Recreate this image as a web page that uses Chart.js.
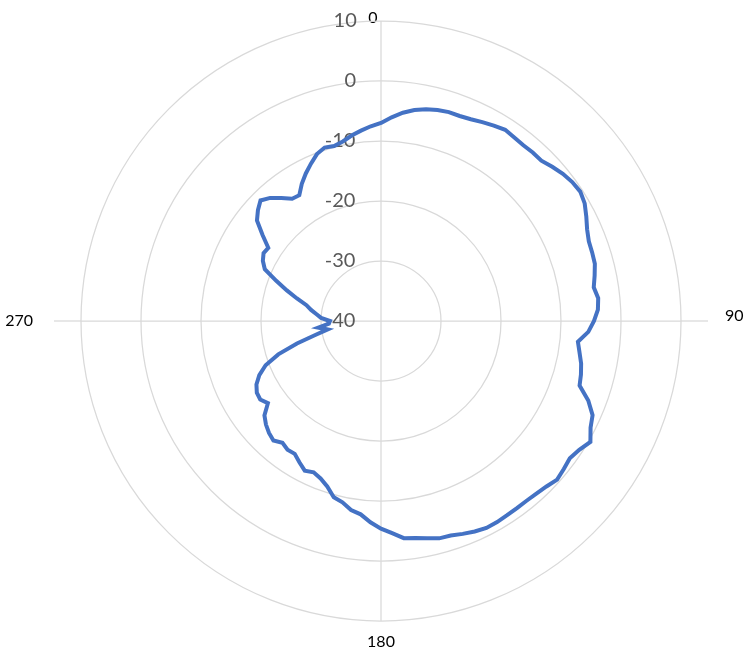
<!DOCTYPE html>
<html><head><meta charset="utf-8">
<script src="https://cdn.jsdelivr.net/npm/chart.js@4/dist/chart.umd.min.js"></script>
<style>html,body{margin:0;padding:0;background:#fff}#wrap{width:753px;height:651px;position:relative}</style>
</head><body><div id="wrap"><canvas id="c"></canvas></div>
<script>
// Azimuth angles (degrees, clockwise from top)
const angles = [0,3,6,9,12,15,18,21,24,27,30,33,36,39,42,45,48,51,54,57,
  60,63,66,69,72,75,78,81,84,87,90,93,96,99,102,105,108,111,114,117,
  120,123,126,129,132,135,138,141,144,147,150,153,156,159,162,165,168,171,174,177,
  180,183,186,189,192,195,198,201,204,207,210,213,216,219,222,225,228,231,234,237,
  240,243,246,249,252,255,258,261,264,267,270,273,276,279,282,285,288,291,294,297,
  300,303,306,309,312,315,318,321,324,327,330,333,336,339,342,345,348,351,354,357];
// Measured level (dB) at each angle
const levels = [-7.0,-6.0,-5.1,-4.4,-3.9,-3.6,-3.4,-3.4,-3.2,-2.8,-2.4,-2.0,-2.2,-2.3,-2.2,-2.2,-1.6,-1.0,-0.6,-0.4,
  -0.8,-1.6,-2.4,-2.9,-3.0,-3.1,-3.6,-4.1,-3.6,-3.8,-4.5,-5.4,-7.0,-6.5,-5.9,-5.5,-5.2,-3.0,-1.4,-0.8,
  0.3,-0.6,-1.1,-0.8,-0.5,-1.0,-1.3,-1.45,-1.45,-1.4,-1.3,-1.3,-1.6,-2.0,-2.4,-2.5,-3.0,-3.4,-3.6,-4.6,
  -5.4,-6.4,-7.6,-8.1,-9.1,-9.6,-11.0,-11.9,-12.4,-12.0,-12.8,-13.6,-13.5,-13.9,-13.2,-13.6,-14.2,-15.0,-16.7,-16.0,
  -16.1,-16.7,-17.8,-19.4,-22.0,-25.5,-28.8,-31.0,-29.5,-31.3,-31.5,-30.0,-29.2,-28.2,-27.3,-25.5,-23.5,-21.3,-18.8,-17.9,
  -17.4,-17.6,-15.6,-13.4,-12.4,-11.6,-12.4,-13.6,-14.8,-15.0,-13.6,-12.4,-11.3,-10.2,-9.6,-9.8,-9.4,-8.7,-8.1,-7.5];
// Axis
const axisMin = -40, axisMax = 10, axisStep = 10;
const shownAngleLabels = [0, 90, 180, 270];

const FONT = 'Lato';
const TICK_SIZE = 20;
const mctx = document.createElement('canvas').getContext('2d');
mctx.font = TICK_SIZE + 'px ' + FONT;
function rightAlign(txt) {
  const lw = mctx.measureText(txt).width;
  const sp = mctx.measureText(' ').width;
  const n = Math.max(0, Math.round((50 + lw) / sp));
  return txt + ' '.repeat(n);
}

function plFont(ctx) {
  const a = angles[ctx.index];
  if (a === 0) return {family: FONT, size: 16, lineHeight: 2.1875};
  if (a === 90) return {family: FONT, size: 16, lineHeight: 0.6875};
  if (a === 180) return {family: FONT, size: 16, lineHeight: 0.0625};
  if (a === 270) return {family: FONT, size: 16, lineHeight: 1.2};
  return {family: FONT, size: 16, lineHeight: 0};
}
function plPad(ctx) {
  const a = angles[ctx.index];
  if (a === 0) return -23;
  if (a === 90) return 35;
  if (a === 180) return 11;
  if (a === 270) return 39;
  return 0;
}

// Extends the 90/270 spokes slightly past the outer ring, as in the original
const spokeExt = {
  id: 'spokeExt',
  beforeDatasetsDraw(chart) {
    const s = chart.scales.r;
    const c = chart.ctx;
    c.save();
    c.strokeStyle = '#d9d9d9';
    c.lineWidth = 1.25;
    [90, 270].forEach(a => {
      const i = angles.indexOf(a);
      const p0 = s.getPointPosition(i, s.drawingArea);
      const p1 = s.getPointPosition(i, s.drawingArea + 27);
      c.beginPath(); c.moveTo(p0.x, p0.y); c.lineTo(p1.x, p1.y); c.stroke();
    });
    c.restore();
  }
};

new Chart(document.getElementById('c'), {
  type: 'radar',
  data: {
    labels: angles,
    datasets: [{
      data: levels,
      borderColor: '#4472C4',
      borderWidth: 4,
      fill: false,
      pointRadius: 0,
      pointHoverRadius: 0,
      tension: 0
    }]
  },
  options: {
    responsive: true,
    maintainAspectRatio: false,
    animation: false,
    events: [],
    layout: {padding: {top: 0, bottom: 9, left: 0, right: 0}},
    plugins: {legend: {display: false}, tooltip: {enabled: false}},
    scales: {
      r: {
        min: axisMin, max: axisMax,
        ticks: {
          stepSize: axisStep,
          showLabelBackdrop: false,
          backdropPadding: -1,
          color: '#595959',
          font: {family: FONT, size: TICK_SIZE},
          callback: v => rightAlign(String(v))
        },
        grid: {circular: true, color: '#d9d9d9', lineWidth: 1.25},
        angleLines: {
          color: ctx => shownAngleLabels.includes(angles[ctx.index]) ? '#d9d9d9' : 'rgba(0,0,0,0)',
          lineWidth: 1.25
        },
        pointLabels: {
          display: true,
          color: '#000000',
          font: plFont,
          padding: plPad,
          callback: (lab) => {
            if (!shownAngleLabels.includes(lab)) return '';
            if (lab === 0) return '0    ';
            if (lab === 90) return ['90', ''];
            return String(lab);
          }
        }
      }
    }
  },
  plugins: [spokeExt]
});
</script>
</body></html>
